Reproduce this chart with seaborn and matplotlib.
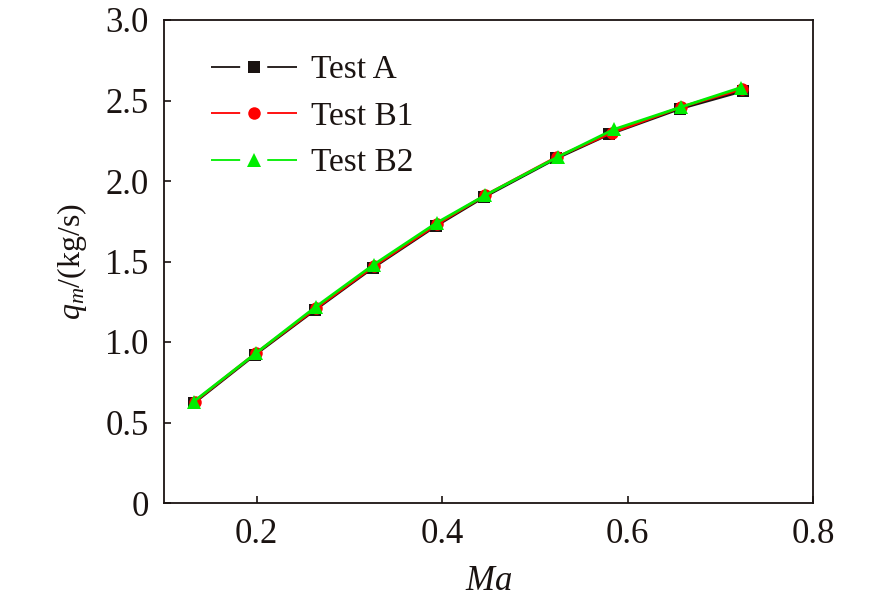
import matplotlib
matplotlib.use("Agg")
import matplotlib.pyplot as plt
from matplotlib.lines import Line2D
from matplotlib.ticker import FuncFormatter
import seaborn as sns
import pandas as pd

# ---- data ----
ma_a = [0.132, 0.198, 0.263, 0.325, 0.393, 0.445, 0.523, 0.580, 0.657, 0.725]
qm_a = [0.62, 0.92, 1.20, 1.46, 1.72, 1.90, 2.14, 2.29, 2.45, 2.56]
ma_b1 = [0.133, 0.199, 0.264, 0.326, 0.394, 0.446, 0.524, 0.583, 0.658, 0.723]
qm_b1 = [0.63, 0.93, 1.21, 1.47, 1.73, 1.91, 2.15, 2.30, 2.46, 2.57]
ma_b2 = [0.132, 0.199, 0.264, 0.326, 0.394, 0.446, 0.525, 0.585, 0.658, 0.722]
qm_b2 = [0.63, 0.93, 1.22, 1.48, 1.74, 1.91, 2.15, 2.32, 2.46, 2.58]
labels = ["Test A", "Test B1", "Test B2"]
colors = ["#1a1311", "#ff0000", "#00ee00"]
markers = ["s", "o", "^"]
msizes = [8, 9, 10.5]
x_ticks = [0.2, 0.4, 0.6, 0.8]
y_ticks = [0, 0.5, 1.0, 1.5, 2.0, 2.5, 3.0]

sns.set_theme(style="ticks")
plt.rcParams["font.family"] = ["Liberation Serif", "DejaVu Serif"]
plt.rcParams["mathtext.fontset"] = "custom"
plt.rcParams["mathtext.rm"] = "Liberation Serif"
plt.rcParams["mathtext.it"] = "Liberation Serif:italic"
plt.rcParams["lines.scale_dashes"] = False

fig = plt.figure(figsize=(8.86, 5.98), dpi=100)
ax = fig.add_axes([164 / 886, 1 - 503 / 598, 649 / 886, 483 / 598])

series = [(ma_a, qm_a), (ma_b1, qm_b1), (ma_b2, qm_b2)]
for (xs, ys), lab, c, m, ms in zip(series, labels, colors, markers, msizes):
    df = pd.DataFrame({"Ma": xs, "qm": ys})
    sns.lineplot(data=df, x="Ma", y="qm", ax=ax, sort=False, color=c,
                 marker=m, markersize=ms, markeredgewidth=0, linewidth=2.0,
                 legend=False)

ax.set_xlim(0.1, 0.8)
ax.set_ylim(0, 3.0)
ax.set_xticks(x_ticks)
ax.set_yticks(y_ticks)
ax.yaxis.set_major_formatter(FuncFormatter(lambda v, p: "0" if v == 0 else f"{v:.1f}"))
ax.xaxis.set_major_formatter(FuncFormatter(lambda v, p: f"{v:.1f}"))
ax.tick_params(direction="in", length=5, width=1.2, labelsize=25, colors="#1a1311",
               top=False, right=False)
ax.tick_params(axis="x", pad=11)
ax.tick_params(axis="y", pad=11)
for s in ax.spines.values():
    s.set_linewidth(1.3)
    s.set_color("#1a1311")
    s.set_visible(True)

ax.set_xlabel("$Ma$", fontsize=25, color="#1a1311", labelpad=10)
ax.set_ylabel("$q_m$/(kg/s)", fontsize=23, color="#1a1311", labelpad=12)

# legend with gapped lines like the reference
handles = []
for c, m, ms in zip(colors, markers, msizes):
    ln = Line2D([], [], color=c, linewidth=1.3, linestyle=(0, (21, 19.5, 21.5, 200)))
    mk = Line2D([], [], color=c, marker=m, markersize=ms, markeredgewidth=0, linestyle="none")
    handles.append((ln, mk))
leg = ax.legend(handles, labels, loc="upper left", bbox_to_anchor=(0.072, 0.928),
                frameon=False, fontsize=24, handlelength=2.58, handletextpad=0.42,
                labelspacing=0.48, borderpad=0, borderaxespad=0)
for t in leg.get_texts():
    t.set_color("#1a1311")

fig.savefig("out.png", dpi=100)
